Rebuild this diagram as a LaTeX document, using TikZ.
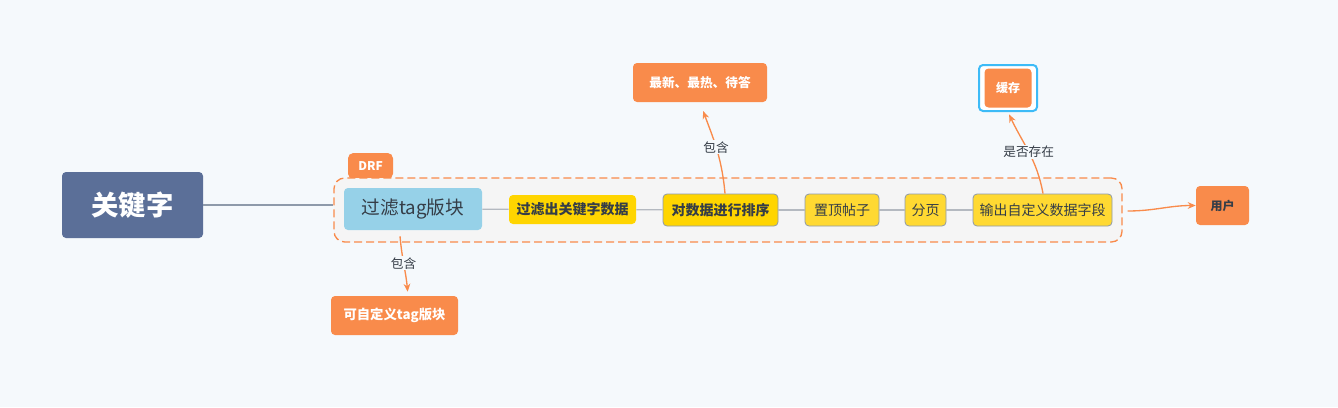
\documentclass[tikz,border=0pt]{standalone}
\usepackage{fontspec}
\setmainfont{Noto Sans CJK SC}
\usetikzlibrary{arrows.meta}

\definecolor{bg}{HTML}{F5F9FC}
\definecolor{kwblue}{HTML}{5B6F98}
\definecolor{org}{HTML}{F98B4B}
\definecolor{tagblue}{HTML}{96D1E8}
\definecolor{yel}{HTML}{FFD500}
\definecolor{yellt}{HTML}{FFD932}
\definecolor{txt}{HTML}{353D47}
\definecolor{lgray}{HTML}{B4B9C0}
\definecolor{dgray}{HTML}{8E9AAA}
\definecolor{frm}{HTML}{3DBBF7}
\definecolor{grpfill}{HTML}{F5F5F5}

\tikzset{
	sz/.style 2 args={minimum width=#1*0.75pt, minimum height=#2*0.75pt, inner sep=0pt},
	box/.style={rounded corners=3pt, text=txt, font=\fontsize{10.5}{12}\selectfont},
	orgbox/.style={box, fill=org, text=white, font=\fontsize{9.5}{11}\selectfont\bfseries},
	yelbox/.style={box, fill=yellt, draw=dgray, line width=0.6pt},
	link/.style={lgray, line width=0.9pt},
	tag/.style={org, line width=1pt, -{Stealth[length=6pt,width=5pt]}},
	lbl/.style={fill=bg, inner sep=1pt, text=txt, font=\fontsize{9.5}{11}\selectfont}
}

\begin{document}
\begin{tikzpicture}[x=0.75pt, y=-0.75pt]
	\fill[bg] (0,0) rectangle (1338,407);
	\useasboundingbox (0,0) rectangle (1338,407);

	% group and its tab
	\node[sz={45}{26}, rounded corners=4pt, fill=org, text=white, font=\fontsize{9}{11}\selectfont\bfseries] (drf) at (370.5,166) {DRF};
	\node[sz={788}{64}, rounded corners=8pt, draw=org, fill=grpfill, dashed, dash pattern=on 6pt off 3pt, line width=1pt] (grp) at (728,210) {};

	\node[box, sz={141}{66}, fill=kwblue, text=white, font=\fontsize{20.5}{24}\selectfont\bfseries] (kw) at (132.5,205) {关键字};

	% chain
	\node[box, sz={138}{42}, fill=tagblue, font=\fontsize{14}{16}\selectfont] (tagblk) at (413,209) {过滤tag版块};
	\node[box, sz={127}{29}, fill=yel, font=\fontsize{10.5}{12}\selectfont\bfseries] (filt) at (572.5,209.5) {过滤出关键字数据};
	\node[yelbox, sz={115}{32}, fill=yel, font=\fontsize{10.5}{12}\selectfont\bfseries] (sort) at (720.5,210) {对数据进行排序};
	\node[yelbox, sz={74}{32}] (top) at (842,210) {置顶帖子};
	\node[yelbox, sz={41}{32}] (page) at (925.5,210) {分页};
	\node[yelbox, sz={139}{32}] (out) at (1042.5,210) {输出自定义数据字段};

	\foreach \a/\b in {tagblk/filt, filt/sort, sort/top, top/page, page/out}
		\draw[link] (\a) -- (\b);
	\draw[dgray, line width=1pt] (kw) -- (grp.west |- kw);

	% outer nodes
	\node[orgbox, sz={53}{39}, text=txt, font=\fontsize{9}{10}\selectfont\bfseries] (user) at (1222.5,205.5) {用户};
	\node[orgbox, sz={134}{39}] (hot) at (700,82.5) {最新、最热、待答};
	\node[sz={58}{46}, rounded corners=3pt, draw=frm, line width=1.5pt, fill=white] (cfrm) at (1008,88) {};
	\node[orgbox, sz={47}{39}, font=\fontsize{9}{10}\selectfont\bfseries\itshape] (cache) at (1008,88) {缓存};
	\node[orgbox, sz={127}{39}, font=\fontsize{10}{12}\selectfont\bfseries] (custom) at (394.5,315.5) {可自定义tag版块};

	% arrows
	\draw[tag] (grp.east) ++(5,1) coordinate (gout) to[out=0,in=180] (user.west);
	\draw[tag, shorten >=7pt] (sort.north -| 725,0) to[out=95,in=-70] node[lbl, pos=0.5] {包含} (hot.south);
	\draw[tag, shorten >=2pt] (out.north -| 1043,0) to[out=100,in=-65] node[lbl, pos=0.5] {是否存在} (cfrm.south);
	\draw[tag, shorten >=3pt] (tagblk.south -| 400,0) ++(0,6) to[out=-85,in=95] node[lbl, pos=0.45] {包含} (custom.north -| 408,0);
\end{tikzpicture}
\end{document}
